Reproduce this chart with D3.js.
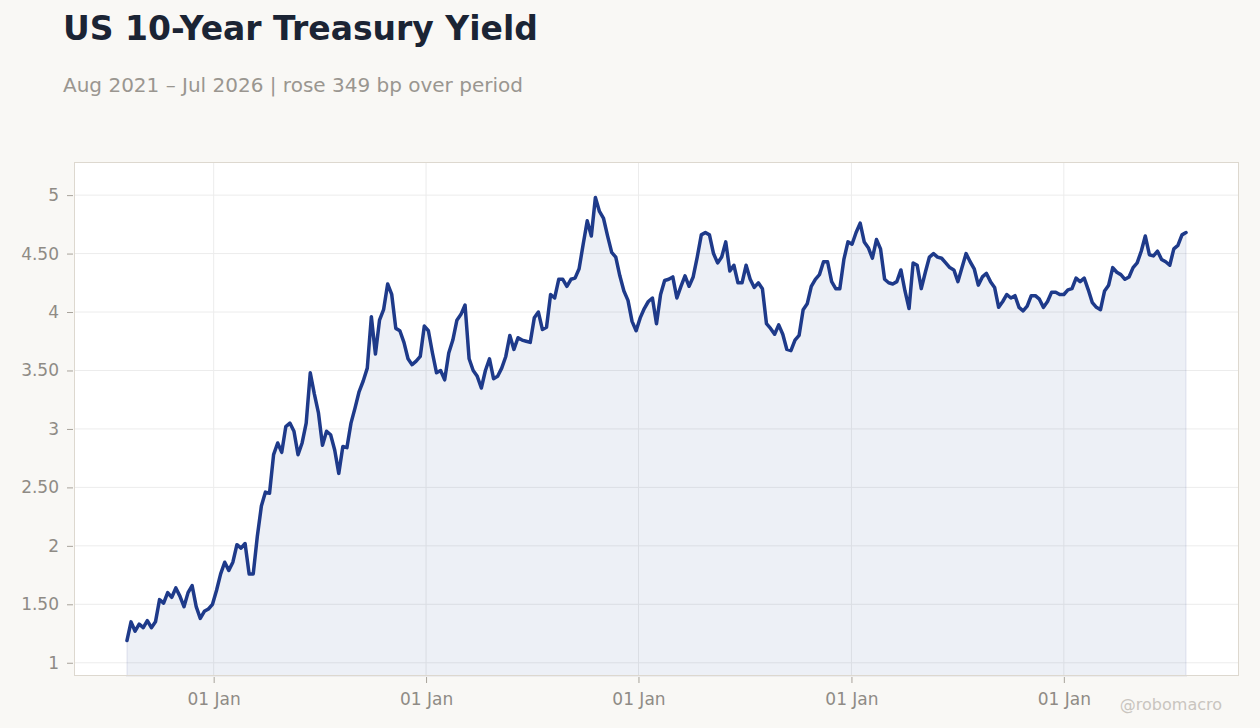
<!DOCTYPE html>
<html>
<head>
<meta charset="utf-8">
<script src="https://cdn.jsdelivr.net/npm/d3@7"></script>
<style>
  html, body { margin: 0; padding: 0; background: #f9f8f5; }
  svg { display: block; font-family: "DejaVu Sans", sans-serif; }
</style>
</head>
<body>
<svg id="chart" width="1260" height="728"></svg>
<script>
// weekly closes, first week ending Thu 5 Aug 2021
var startWeek = "2021-08-05";
var weeklyYield = [
  1.19, 1.35, 1.27, 1.33, 1.30, 1.36, 1.30, 1.35, 1.54, 1.51,
  1.60, 1.56, 1.64, 1.57, 1.48, 1.60, 1.66, 1.48, 1.38, 1.44,
  1.46, 1.50, 1.62, 1.76, 1.86, 1.79, 1.86, 2.01, 1.98, 2.02,
  1.76, 1.76, 2.08, 2.34, 2.46, 2.45, 2.78, 2.88, 2.80, 3.02,
  3.05, 2.98, 2.78, 2.88, 3.05, 3.48, 3.30, 3.14, 2.86, 2.98,
  2.95, 2.82, 2.62, 2.85, 2.84, 3.05, 3.18, 3.32, 3.41, 3.52,
  3.96, 3.64, 3.93, 4.02, 4.24, 4.15, 3.86, 3.84, 3.74, 3.60,
  3.55, 3.58, 3.62, 3.88, 3.84, 3.65, 3.48, 3.50, 3.42, 3.65,
  3.76, 3.93, 3.98, 4.06, 3.60, 3.50, 3.45, 3.35, 3.50, 3.60,
  3.43, 3.45, 3.52, 3.62, 3.80, 3.68, 3.78, 3.76, 3.75, 3.74,
  3.95, 4.00, 3.85, 3.87, 4.15, 4.12, 4.28, 4.28, 4.22, 4.28,
  4.29, 4.37, 4.58, 4.78, 4.65, 4.98, 4.86, 4.80, 4.65, 4.51,
  4.47, 4.31, 4.18, 4.10, 3.92, 3.84, 3.95, 4.03, 4.09, 4.12,
  3.90, 4.15, 4.27, 4.28, 4.30, 4.12, 4.22, 4.31, 4.22, 4.30,
  4.47, 4.66, 4.68, 4.66, 4.50, 4.42, 4.47, 4.60, 4.35, 4.40,
  4.25, 4.25, 4.40, 4.28, 4.21, 4.25, 4.20, 3.90, 3.86, 3.81,
  3.89, 3.81, 3.68, 3.67, 3.76, 3.80, 4.02, 4.07, 4.22, 4.28,
  4.32, 4.43, 4.43, 4.26, 4.20, 4.20, 4.45, 4.60, 4.58, 4.68,
  4.76, 4.60, 4.55, 4.46, 4.62, 4.54, 4.28, 4.25, 4.24, 4.26,
  4.36, 4.18, 4.03, 4.42, 4.40, 4.20, 4.34, 4.47, 4.50, 4.47,
  4.46, 4.42, 4.38, 4.36, 4.26, 4.38, 4.50, 4.43, 4.37, 4.23,
  4.30, 4.33, 4.26, 4.21, 4.04, 4.09, 4.15, 4.12, 4.14, 4.04,
  4.01, 4.05, 4.14, 4.14, 4.11, 4.04, 4.09, 4.17, 4.17, 4.15,
  4.15, 4.19, 4.20, 4.29, 4.26, 4.29, 4.19, 4.08, 4.04, 4.02,
  4.18, 4.23, 4.38, 4.34, 4.32, 4.28, 4.30, 4.38, 4.42, 4.52,
  4.65, 4.49, 4.48, 4.52, 4.45, 4.43, 4.40, 4.54, 4.57, 4.66, 4.68
];
var yTicks = [1, 1.5, 2, 2.5, 3, 3.5, 4, 4.5, 5];
var titleText = "US 10-Year Treasury Yield";
var subtitleText = "Aug 2021 \u2013 Jul 2026 | rose 349 bp over period";
var creditText = "@robomacro";

var W = 1260, H = 728;
var margin = { top: 162, right: 21, bottom: 52, left: 74 };
var pw = W - margin.left - margin.right;
var ph = H - margin.top - margin.bottom;

var parse = d3.timeParse("%Y-%m-%d");
var t0 = parse(startWeek);
var data = weeklyYield.map(function (v, i) {
  return { date: d3.timeDay.offset(t0, 7 * i), value: v };
});

var svg = d3.select("#chart");

svg.append("text")
  .attr("x", 63).attr("y", 40)
  .attr("font-size", 33).attr("font-weight", "bold")
  .attr("fill", "#1b2434")
  .text(titleText);

svg.append("text")
  .attr("x", 63).attr("y", 92)
  .attr("font-size", 20)
  .attr("fill", "#9a9690")
  .text(subtitleText);

// scales with a bit of breathing room around the data
var xExt = d3.extent(data, function (d) { return d.date; });
var span = xExt[1] - xExt[0];
var x = d3.scaleTime()
  .domain([new Date(+xExt[0] - span * 0.05), new Date(+xExt[1] + span * 0.05)])
  .range([0, pw]);

var yExt = d3.extent(data, function (d) { return d.value; });
var yPad = (yExt[1] - yExt[0]) * 0.08;
var y = d3.scaleLinear()
  .domain([yExt[0] - yPad, yExt[1] + yPad])
  .range([ph, 0]);

var g = svg.append("g").attr("transform", "translate(" + margin.left + "," + margin.top + ")");

g.append("rect").attr("width", pw).attr("height", ph).attr("fill", "#ffffff");

var xTicks = x.ticks(d3.timeYear.every(1));

g.append("g").selectAll("line")
  .data(yTicks).enter().append("line")
  .attr("x1", 0).attr("x2", pw)
  .attr("y1", function (d) { return y(d); })
  .attr("y2", function (d) { return y(d); })
  .attr("stroke", "#ececec").attr("stroke-width", 1);

g.append("g").selectAll("line")
  .data(xTicks).enter().append("line")
  .attr("x1", function (d) { return x(d); })
  .attr("x2", function (d) { return x(d); })
  .attr("y1", 0).attr("y2", ph)
  .attr("stroke", "#ececec").attr("stroke-width", 1);

var area = d3.area()
  .x(function (d) { return x(d.date); })
  .y0(ph)
  .y1(function (d) { return y(d.value); });

g.append("path")
  .datum(data)
  .attr("d", area)
  .attr("fill", "#1e3a8a").attr("fill-opacity", 0.08)
  .attr("stroke", "#1e3a8a").attr("stroke-opacity", 0.06).attr("stroke-width", 2);

var line = d3.line()
  .x(function (d) { return x(d.date); })
  .y(function (d) { return y(d.value); });

g.append("path")
  .datum(data)
  .attr("d", line)
  .attr("fill", "none")
  .attr("stroke", "#1e3a8a")
  .attr("stroke-width", 3.5)
  .attr("stroke-linejoin", "round")
  .attr("stroke-linecap", "round");

g.append("rect")
  .attr("x", 0.5).attr("y", 0.5)
  .attr("width", pw - 1).attr("height", ph - 1)
  .attr("fill", "none").attr("stroke", "#ddd8cf");

var yAxis = g.append("g")
  .attr("transform", "translate(-1,0)")
  .call(d3.axisLeft(y)
    .tickValues(yTicks)
    .tickSize(6).tickSizeOuter(0).tickPadding(8)
    .tickFormat(function (d) { return Number.isInteger(d) ? d : d.toFixed(2); }));

var xAxis = g.append("g")
  .attr("transform", "translate(0," + (ph + 1) + ")")
  .call(d3.axisBottom(x)
    .tickValues(xTicks)
    .tickSize(6).tickSizeOuter(0).tickPadding(10)
    .tickFormat(d3.timeFormat("%d %b")));

[yAxis, xAxis].forEach(function (ax) {
  ax.select(".domain").remove();
  ax.selectAll(".tick line").attr("stroke", "#a8a39b");
  ax.selectAll(".tick text")
    .attr("fill", "#8f8b85")
    .attr("font-size", 17)
    .attr("font-family", "DejaVu Sans, sans-serif");
});

svg.append("text")
  .attr("x", 1222).attr("y", 710)
  .attr("text-anchor", "end")
  .attr("font-size", 16)
  .attr("fill", "#c9c5bf")
  .text(creditText);
</script>
</body>
</html>
